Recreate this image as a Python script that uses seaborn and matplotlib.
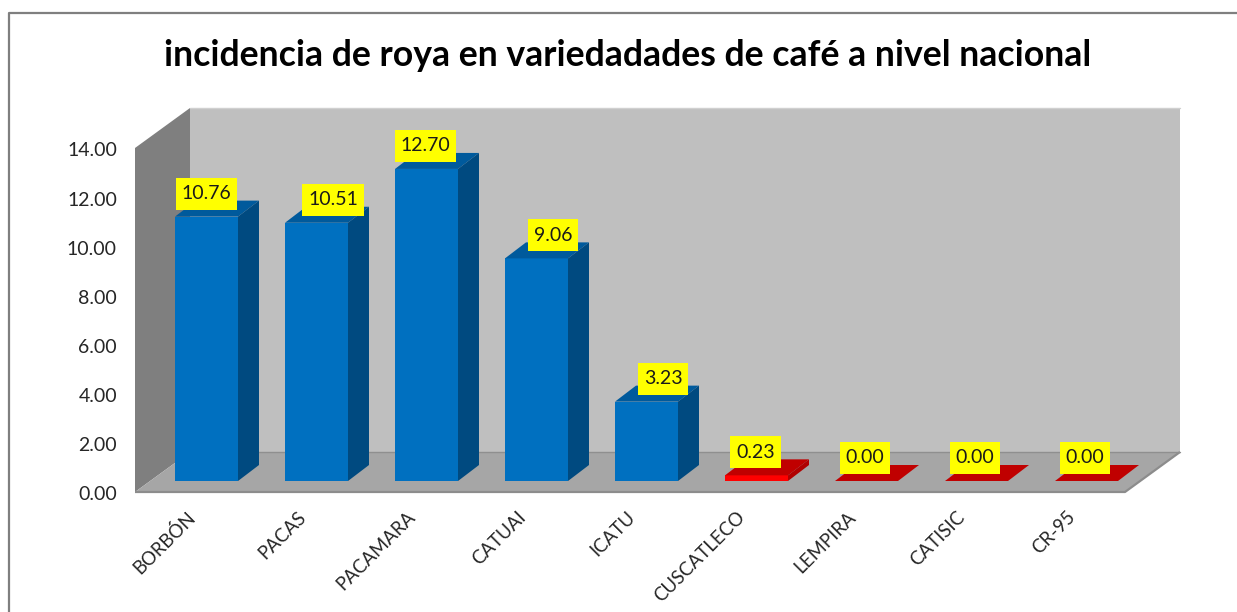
import matplotlib
matplotlib.use("Agg")
import matplotlib.pyplot as plt
import seaborn as sns
import pandas as pd
from matplotlib.patches import Polygon
from matplotlib.path import Path
from matplotlib.lines import Line2D
from matplotlib.transforms import ScaledTranslation

variedades = ["BORBÓN", "PACAS", "PACAMARA", "CATUAI", "ICATU", "CUSCATLECO", "LEMPIRA", "CATISIC", "CR-95"]
incidencia = [10.76, 10.51, 12.70, 9.06, 3.23, 0.23, 0.00, 0.00, 0.00]
colores_frente = ["#0070C0"] * 5 + ["#FF0000"] * 4
yticks = [0, 2, 4, 6, 8, 10, 12, 14]
titulo = "incidencia de roya en variedadades de café a nivel nacional"
# horizontal shift of each data label, in pixels (some were moved by hand in the original)
desplazamiento_etiqueta = [0, 16.5, -1, 16.5, 16.5, -1, -1.5, -1.5, -1.5]

W, H = 1237, 612
sns.set_theme(style="white")
plt.rcParams["font.family"] = ["Lato", "DejaVu Sans"]
fig = plt.figure(figsize=(W / 100, H / 100), dpi=100, facecolor="white")

def rect(x0, x1, ytop, ybot):
    return [x0 / W, 1 - ybot / H, (x1 - x0) / W, (ybot - ytop) / H]

class CajaEtiqueta:
    """Square label box with separate horizontal and vertical padding (pixels)."""
    def __init__(self, padx, pady):
        self.padx, self.pady = padx, pady
    def __call__(self, x0, y0, width, height, mutation_size):
        a, b = x0 - self.padx, y0 - self.pady
        c, d = x0 + width + self.padx, y0 + height + self.pady
        return Path([(a, b), (c, b), (c, d), (a, d), (a, b)], closed=True)

# frame (only left and top visible in the crop)
fig.add_artist(Line2D([9 / W, 9 / W, 1], [0, 1 - 13 / H, 1 - 13 / H], color="#7F7F7F", lw=1.6))
fig.text(628 / W, 1 - 55 / H, titulo, ha="center", va="center", fontsize=25.7, fontweight="bold", color="black")

# front plane axes: walls, value axis
bg = fig.add_axes(rect(135, 1125, 148, 492))
bg.set_xlim(-0.65, 8.35)
bg.set_ylim(0, 14)
bg.patch.set_alpha(0)
for s in bg.spines.values():
    s.set_visible(False)
wx, wy = 55 / 110, 40 / (344 / 14)
xl, xr = -0.65, 8.35
bg.add_patch(Polygon([(xl + wx, wy), (xr + wx, wy), (xr + wx, 14 + wy), (xl + wx, 14 + wy)], fc="#BFBFBF", ec="none", clip_on=False))
bg.add_patch(Polygon([(xl, 0), (xl, 14), (xl + wx, 14 + wy), (xl + wx, wy)], fc="#7F7F7F", ec="none", clip_on=False))
bg.add_patch(Polygon([(xl, 0), (xr, 0), (xr + wx, wy), (xl + wx, wy)], fc="#A6A6A6", ec="none", clip_on=False))
bg.plot([xl, xr, xr + wx], [0, 0, wy], color="#8C8C8C", lw=1.6, clip_on=False, solid_capstyle="butt")
bg.plot([xl + wx, xr + wx], [wy, wy], color="#8F8F8F", lw=1.0, clip_on=False)
bg.plot([xl + wx, xr + wx], [14 + wy, 14 + wy], color="#D0D0D0", lw=1.0, clip_on=False)
bg.set_xticks([])
bg.set_yticks(yticks)
bg.set_yticklabels([f"{v:.2f}" for v in yticks], fontsize=14, color="#262626")
bg.tick_params(axis="y", length=0, pad=13)
off_y = ScaledTranslation(0, -1.0 / 72, fig.dpi_scale_trans)
for t in bg.get_yticklabels():
    t.set_transform(t.get_transform() + off_y)

# bars plane axes
ax = fig.add_axes(rect(135, 1125, 137, 481))
ax.patch.set_alpha(0)
df = pd.DataFrame({"variedad": variedades, "incidencia": incidencia})
sns.barplot(data=df, x="variedad", y="incidencia", hue="variedad", palette=colores_frente,
            legend=False, width=63 / 110, saturation=1, ax=ax, zorder=3)
ax.set_xlim(-0.65, 8.35)
ax.set_ylim(0, 14)
ax.set_xlabel("")
ax.set_ylabel("")
ax.set_yticks([])
for s in ax.spines.values():
    s.set_visible(False)

dx, dy = 21 / 110, 16 / (344 / 14)
caras = {"#0070C0": ("#005A9C", "#004A80"), "#FF0000": ("#C00000", "#B00000")}
barras = sorted([p for p in ax.patches], key=lambda p: p.get_x())
for p, v, c, d in zip(barras, incidencia, colores_frente, desplazamiento_etiqueta):
    p.set_edgecolor("none")
    x0, w = p.get_x(), p.get_width()
    top, side = caras[c]
    ax.add_patch(Polygon([(x0, v), (x0 + w, v), (x0 + w + dx, v + dy), (x0 + dx, v + dy)], fc=top, ec="none", clip_on=False, zorder=3))
    ax.add_patch(Polygon([(x0 + w, 0), (x0 + w, v), (x0 + w + dx, v + dy), (x0 + w + dx, dy)], fc=side, ec="none", clip_on=False, zorder=3))
    ax.annotate(f"{v:.2f}", (x0 + w / 2, v), xytext=(d * 0.72, 16.6), textcoords="offset points", ha="center", va="center",
                fontsize=14, color="#1A1A1A", zorder=6, annotation_clip=False,
                bbox=dict(boxstyle=CajaEtiqueta(6, 7.5), fc="#FFFF00", ec="none"))

ax.set_xticks(range(len(variedades)))
ax.set_xticklabels(variedades, rotation=45, ha="right", va="center", rotation_mode="anchor", fontsize=13.4, color="#262626")
ax.tick_params(axis="x", length=0, pad=24)
off = ScaledTranslation(-10 / 72, 0, fig.dpi_scale_trans)
for t in ax.get_xticklabels():
    t.set_transform(t.get_transform() + off)

fig.savefig("out.png", dpi=100, facecolor="white")
